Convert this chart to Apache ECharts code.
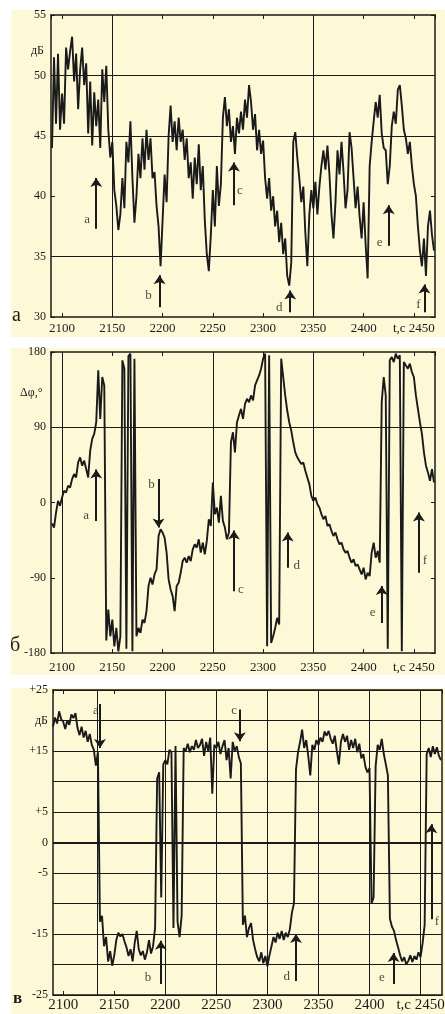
<!DOCTYPE html>
<html>
<head>
<meta charset="utf-8">
<title>ECharts</title>
<script src="https://cdn.jsdelivr.net/npm/echarts@6/dist/echarts.min.js"></script>
<style>
html,body{margin:0;padding:0;background:#fff;}
.bg{position:absolute;left:11px;width:434px;background:#fdf9d6;z-index:0;}
#main{position:absolute;left:0;top:0;width:445px;height:1014px;z-index:1;}
</style>
</head>
<body>
<div class="bg" style="top:10px;height:327px;"></div>
<div class="bg" style="top:348px;height:327px;"></div>
<div class="bg" style="top:688px;height:326px;"></div>
<div id="main"></div>
<script>
// time axis: one reading every 2 s from 2090 s
var T0 = 2090, STEP = 2;

// panel a: amplitude, dB
var ampA = [
  44, 51.5, 46, 51.8, 45.5, 48.5, 46, 52.3, 50.5, 52,
  53.2, 49.5, 51.8, 47.2, 50.5, 52.3, 49.2, 51, 45.2, 49.5,
  44.2, 48.6, 45.8, 48, 44, 50.5, 47.8, 50.8, 45.5, 43.2,
  44.5, 40.5, 39.2, 37.2, 38.5, 41.5, 39, 44.5, 42.8, 46.2,
  41.5, 37.8, 40, 43.5, 41.5, 44.8, 42.2, 45.5, 43, 44.8,
  41.5, 42, 39.2, 37.5, 34.2, 38, 41.8, 39.5, 45, 47.5,
  44.5, 46.2, 43.8, 46.5, 44.5, 45.5, 43, 44.8, 41.5, 42.8,
  39.8, 43.2, 41, 44.3, 40.5, 42.5, 38, 35.2, 33.8, 36.8,
  40.5, 37.5, 42.5, 39.2, 41, 46.5, 48.2, 45.8, 47.2, 44.5,
  45.8, 43.5, 46.5, 45.2, 47, 45.5, 48, 46.5, 49.2, 47.8,
  45.5, 46.8, 43.8, 45.5, 43.5, 44.6, 41.5, 39.8, 41.5, 38.8,
  40, 37.5, 38.8, 36.2, 37.8, 35.2, 36.5, 33.4, 32.6, 34.5,
  44.5, 45.3, 43.2, 41.5, 39.5, 40.8, 37, 34.2, 38.5, 40.5,
  39, 41.2, 38.5, 40.8, 42.5, 43.8, 42.2, 44.2, 41.8, 38.5,
  36.5, 39.5, 43.8, 41.8, 44.5, 42, 39, 40.5, 45.3, 44,
  41.5, 39, 40.8, 38.3, 36.5, 39.5, 36, 33.2, 42.5, 44.5,
  46.2, 47.8, 46.5, 48.4, 45.2, 44, 43.8, 41, 42.5, 45.8,
  47, 46, 48.8, 49.2, 47.5, 45.5, 44.8, 43.5, 44.5, 42.5,
  41, 40, 37.5, 35.5, 34.2, 36.5, 33.4, 37.5, 38.8, 36.8,
  35.5
];

// panel б: phase difference, degrees
var phaseB = [
  -25, -30, -12, 2, -4, 6, 14, 12, 20, 18,
  28, 34, 30, 48, 54, 44, 50, 40, 30, 62,
  76, 82, 96, 158, 100, 150, 140, -165, -128, -160,
  -140, -172, -150, -178, -160, 170, 160, -175, 175, 178,
  -178, 172, -160, -150, -156, -140, -144, -130, -100, -90,
  -98, -86, -80, -40, -32, -36, -42, -60, -92, -104,
  -112, -130, -100, -96, -84, -70, -66, -72, -64, -70,
  -56, -50, -54, -44, -60, -48, -62, -46, -20, -28,
  24, -14, -6, -24, 8, -22, -30, -44, -36, 72,
  84, 60, 96, 104, 112, 100, 118, 124, 120, 128,
  122, 140, 146, 152, 160, 172, 178, -172, 176, -168,
  -160, -150, -138, -146, 172, 150, 128, 110, 96, 86,
  72, 60, 54, 50, 46, 48, 38, 30, 22, 8,
  2, 6, -2, -6, -14, -20, -16, -28, -26, -34,
  -40, -36, -44, -50, -48, -56, -60, -58, -66, -72,
  -68, -76, -74, -80, -86, -78, -92, -84, -88, -60,
  -48, -66, -58, -72, 120, 150, 128, -175, 170, 174,
  168, 178, 172, 176, -178, 168, 164, 160, 166, 156,
  150, 128, 112, 96, 82, 60, 44, 36, 26, 40,
  24
];

// panel в: level, dB
var levelC = [
  19, 20.5, 19.5, 21.5, 20.2, 19.8, 18.6, 20, 19.3, 21,
  20.4, 21.2, 18.8, 17.6, 19, 17.2, 18.3, 16.5, 17.8, 16,
  15.2, 12.6, 14.8, -13, -12, -17, -15.5, -19.5, -17.8, -20.2,
  -18.5, -16, -14.8, -15.4, -15, -16.2, -17.2, -18.6, -17.5, -19.5,
  -16.5, -14.5, -17.5, -18.5, -17.8, -19.2, -18, -16, -18.2, -17,
  -14, 10.5, 11.5, -9, 12.8, 13.5, 12.8, 15.2, 14.8, -14,
  15.8, -13, -15.5, -12, 15.5, 15, 16.2, 14.8, 15.8, 15.2,
  16.8, 15.5, 16, 17, 14.2, 16.5, 15, 17.2, 8, 16,
  15.5, 16.5, 14.5, 15.8, 16.8, 13.5, 15.5, 10.5, 16.5, 15,
  15.8, 14, 13, -13.5, -12, -15.5, -14, -13.2, -16, -17.5,
  -18.8, -19.5, -18, -19.8, -18.6, -20.3, -18.5, -17, -15.5, -16.4,
  -14.8, -15.8, -14.5, -16, -14.8, -15.5, -14.2, -11.5, -10, 12,
  14.8, 16.5, 18.5, 15.5, 16.8, 14.2, 11, 16, 15.2, 16.8,
  16, 17.2, 16.5, 18.2, 17.5, 18.3, 17, 16.2, 17.5, 15,
  12.8, 16.5, 17.8, 16.5, 17.5, 15.2, 16.8, 15.5, 17, 14.8,
  16.2, 13.8, 14.5, 12.4, 11.5, 12.2, -10, -9, 12.5, 16,
  15.2, 17, 14.5, 12.8, 11, -12.5, -13.8, -14.5, -16, -17.2,
  -18.5, -19.5, -18.8, -20, -19.4, -18.5, -19.6, -18.6, -19.2, -18,
  -18.8, -16.5, -13.5, 14.5, 15.5, 14, 15.8, 14.5, 15.6, 14.2,
  13.5
];

// arrows: [letter, t, tail, tip, label t, label value]
var arrowsA = [
  ['a', 2134, 37.3, 41.5, 2125, 38.1],
  ['b', 2197, 30.8, 33.45, 2186, 31.8],
  ['c', 2271, 39.25, 42.8, 2277, 40.5],
  ['d', 2327, 30.4, 32.2, 2316, 30.8],
  ['e', 2425, 35.9, 39.25, 2416, 36.2],
  ['f', 2460.5, 30.4, 32.7, 2454.5, 31]
];
var arrowsB = [
  ['a', 2134, -22, 39.6, 2124, -16],
  ['b', 2196, 28, -30, 2189, 22],
  ['c', 2271, -106, -33.5, 2278, -104],
  ['d', 2324.5, -78, -36, 2333.5, -76],
  ['e', 2418, -144, -100, 2409, -132],
  ['f', 2455, -84, -12, 2461, -70]
];
var arrowsC = [
  ['a', 2136, 22.7, 15.5, 2132, 21.7],
  ['b', 2195.6, -23.2, -16.1, 2183, -22.2],
  ['c', 2273, 21.8, 16.6, 2267.5, 21.6],
  ['d', 2328, -22.7, -15, 2319, -21.9],
  ['e', 2423.6, -23.2, -18.1, 2412, -22.2],
  ['f', 2460.6, -12.6, 3, 2466, -13]
];

// grid lines drawn in each panel
var gridXA = [2150, 2350], gridYA = [50, 45, 35];
var gridXB = [2100, 2250, 2350], gridYB = [90];
var gridXC = [2133, 2200, 2250, 2300, 2350, 2400, 2450];
var yLabelsC = {'25': '+25', '20': 'дБ', '15': '+15', '5': '+5', '0': '0', '-5': '-5', '-15': '-15', '-25': '-25'};

var FONT = 'Liberation Serif';
var INK = '#1a1a1a';

function pairs(arr) {
  return arr.map(function (v, i) { return [T0 + i * STEP, v]; });
}
function gridMarks(xs, ys) {
  var d = [];
  xs.forEach(function (x) { d.push({xAxis: x}); });
  ys.forEach(function (y) { d.push({yAxis: y}); });
  return d;
}
function arrowLines(list) {
  return list.map(function (a) {
    return [{coord: [a[1], a[2]]}, {coord: [a[1], a[3]]}];
  });
}
function letterPoints(list) {
  return list.map(function (a) { return {name: a[0], value: [a[4], a[5]]}; });
}
// the time unit sits next to the last tick label
function timeLabel(v) {
  return v === 2450 ? 't,c 2450' : String(v);
}

function xAxisPair(gi, min, max, fontSize, margin) {
  return [{
    type: 'value', gridIndex: gi, min: min, max: max, splitNumber: 8,
    axisLine: {onZero: false, lineStyle: {color: INK, width: 1.5}},
    axisTick: {inside: true, length: 4, lineStyle: {color: INK}},
    axisLabel: {color: INK, fontFamily: FONT, fontSize: fontSize, margin: margin, formatter: timeLabel},
    splitLine: {show: false}
  }, {
    type: 'value', gridIndex: gi, min: min, max: max, splitNumber: 8, position: 'top',
    axisLine: {onZero: false, lineStyle: {color: INK, width: 1.5}},
    axisTick: {inside: true, length: 4, lineStyle: {color: INK}},
    axisLabel: {show: false},
    splitLine: {show: false}
  }];
}
function yAxisPair(gi, min, max, interval, fmt, split) {
  return [{
    type: 'value', gridIndex: gi, min: min, max: max, interval: interval,
    axisLine: {onZero: false, lineStyle: {color: INK, width: 1.5}},
    axisTick: {inside: true, length: 4, lineStyle: {color: INK}},
    axisLabel: {color: INK, fontFamily: FONT, fontSize: 12, margin: 5, formatter: fmt},
    splitLine: {show: !!split, lineStyle: {color: INK, width: 1}}
  }, {
    type: 'value', gridIndex: gi, min: min, max: max, interval: interval, position: 'right',
    axisLine: {onZero: false, lineStyle: {color: INK, width: 1.5}},
    axisTick: {inside: true, length: 4, lineStyle: {color: INK}},
    axisLabel: {show: false},
    splitLine: {show: false}
  }];
}

function dataSeries(idx, arr, marks, extra) {
  var md = marks.concat(extra || []);
  return {
    type: 'line', xAxisIndex: idx * 2, yAxisIndex: idx * 2,
    data: pairs(arr), showSymbol: false, silent: true, z: 3,
    lineStyle: {color: INK, width: 1.9},
    markLine: {
      silent: true, symbol: ['none', 'none'], animation: false,
      label: {show: false},
      lineStyle: {color: INK, width: 1, type: 'solid'},
      data: md
    }
  };
}
function letterSeries(idx, list) {
  return {
    type: 'scatter', xAxisIndex: idx * 2, yAxisIndex: idx * 2,
    data: letterPoints(list), symbolSize: 1, silent: true, z: 4,
    itemStyle: {color: 'rgba(0,0,0,0)'},
    label: {show: true, position: 'inside', formatter: '{b}', color: INK, fontFamily: FONT, fontSize: 13},
    markLine: {
      silent: true, symbol: ['none', 'arrow'], symbolSize: 9, animation: false,
      label: {show: false},
      lineStyle: {color: INK, width: 2, type: 'solid'},
      data: arrowLines(list)
    }
  };
}

var chart = echarts.init(document.getElementById('main'));

var option = {
  animation: false,
  backgroundColor: 'transparent',
  grid: [
    {left: 51, top: 15, width: 384, height: 302, outerBoundsMode: 'none'},
    {left: 51, top: 352, width: 384, height: 301, outerBoundsMode: 'none'},
    {left: 53, top: 690, width: 389, height: 305, outerBoundsMode: 'none'}
  ],
  xAxis: [].concat(
    xAxisPair(0, 2089, 2471, 13, 5),
    xAxisPair(1, 2089, 2471, 13, 8),
    xAxisPair(2, 2090, 2471, 15, 3)
  ),
  yAxis: [].concat(
    yAxisPair(0, 30, 55, 5, '{value}', false),
    yAxisPair(1, -180, 180, 90, '{value}', false),
    yAxisPair(2, -25, 25, 5, function (v) { return yLabelsC[String(v)] || ''; }, true)
  ),
  graphic: [
    {type: 'text', left: 31, top: 45, style: {text: 'дБ', font: '12px "Liberation Serif"', fill: INK}},
    {type: 'text', left: 20, top: 387, style: {text: 'Δφ,°', font: '12px "Liberation Serif"', fill: INK}},
    {type: 'text', left: 12, top: 306, style: {text: 'а', font: '20px "Liberation Serif"', fill: INK}},
    {type: 'text', left: 10, top: 636, style: {text: 'б', font: '20px "Liberation Serif"', fill: INK}},
    {type: 'text', left: 13, top: 990, style: {text: 'в', font: 'bold 17px "Liberation Serif"', fill: INK}}
  ],
  series: [
    dataSeries(0, ampA, gridMarks(gridXA, gridYA)),
    letterSeries(0, arrowsA),
    dataSeries(1, phaseB, gridMarks(gridXB, gridYB)),
    letterSeries(1, arrowsB),
    dataSeries(2, levelC, gridMarks(gridXC, []), [{yAxis: 0, lineStyle: {width: 2.2}}]),
    letterSeries(2, arrowsC)
  ]
};

chart.setOption(option);
</script>
</body>
</html>
